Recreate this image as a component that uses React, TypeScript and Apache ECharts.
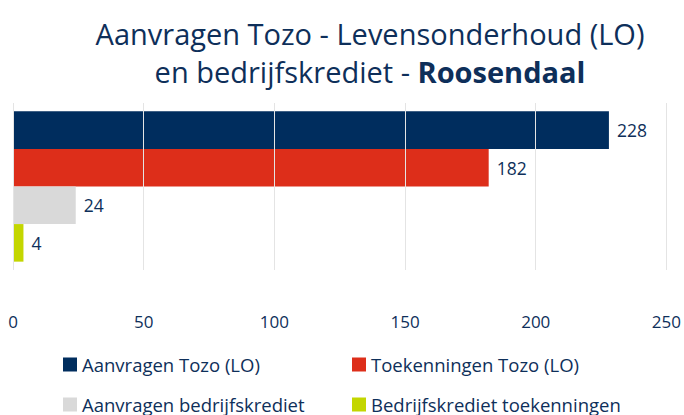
import React, { useEffect, useRef } from "react";
import * as echarts from "echarts";

const seriesNames = [
  "Aanvragen Tozo (LO)",
  "Toekenningen Tozo (LO)",
  "Aanvragen bedrijfskrediet",
  "Bedrijfskrediet toekenningen",
];
const seriesValues = [228, 182, 24, 4];
const seriesColors = ["#002d5e", "#dd2e1a", "#d9d9d9", "#c3d600"];
const categories = ["Roosendaal"];
const xTicks = { min: 0, max: 250, interval: 50 };

const NAVY = "#0e2f5a";
const FONT = "'Open Sans', sans-serif";

export default function App() {
  const ref = useRef<HTMLDivElement>(null);
  useEffect(() => {
    if (!ref.current) return;
    const chart = echarts.init(ref.current, null, { renderer: "svg" });
    const legendBase = {
      orient: "vertical",
      top: 350,
      height: 80,
      icon: "rect",
      itemWidth: 14,
      itemHeight: 14,
      itemGap: 21,
      textStyle: { fontFamily: FONT, fontSize: 18.5, color: NAVY, lineHeight: 18 },
    };
    chart.setOption({
      animation: false,
      textStyle: { fontFamily: FONT },
      title: {
        left: 365,
        top: 9,
        textAlign: "center",
        text: "{n|Aanvragen Tozo - Levensonderhoud (LO)}\n{n|en bedrijfskrediet - }{b|Roosendaal}",
        textStyle: {
          fontWeight: "normal",
          rich: {
            n: { fontFamily: FONT, fontSize: 29, color: NAVY, fontWeight: "normal", lineHeight: 38 },
            b: { fontFamily: FONT, fontSize: 29, color: NAVY, fontWeight: "bold", lineHeight: 38 },
          },
        },
      },
      legend: [
        { ...legendBase, left: 58, data: [seriesNames[0], seriesNames[2]] },
        { ...legendBase, left: 347, data: [seriesNames[1], seriesNames[3]] },
      ],
      grid: { left: 13, right: 17, top: 103, bottom: 145, containLabel: false },
      xAxis: {
        type: "value",
        min: xTicks.min,
        max: xTicks.max,
        interval: xTicks.interval,
        z: 5,
        axisLine: { show: false },
        axisTick: { show: false },
        axisLabel: { color: NAVY, fontSize: 17, margin: 43, fontFamily: FONT },
        splitLine: { show: true, lineStyle: { color: "#e4e4e4", width: 1 } },
      },
      yAxis: {
        type: "category",
        data: categories,
        inverse: true,
        show: false,
      },
      series: seriesNames.map((name, i) => ({
        type: "bar",
        name,
        data: [seriesValues[i]],
        barGap: "0%",
        barCategoryGap: "10%",
        itemStyle: { color: seriesColors[i] },
        label: {
          show: true,
          position: "right",
          distance: 8,
          color: NAVY,
          fontSize: 17.5,
          fontFamily: FONT,
        },
      })),
    });
    return () => chart.dispose();
  }, []);
  return (
    <div
      ref={ref}
      style={{ position: "fixed", left: 0, top: 0, width: 684, height: 415, background: "#fff" }}
    />
  );
}
